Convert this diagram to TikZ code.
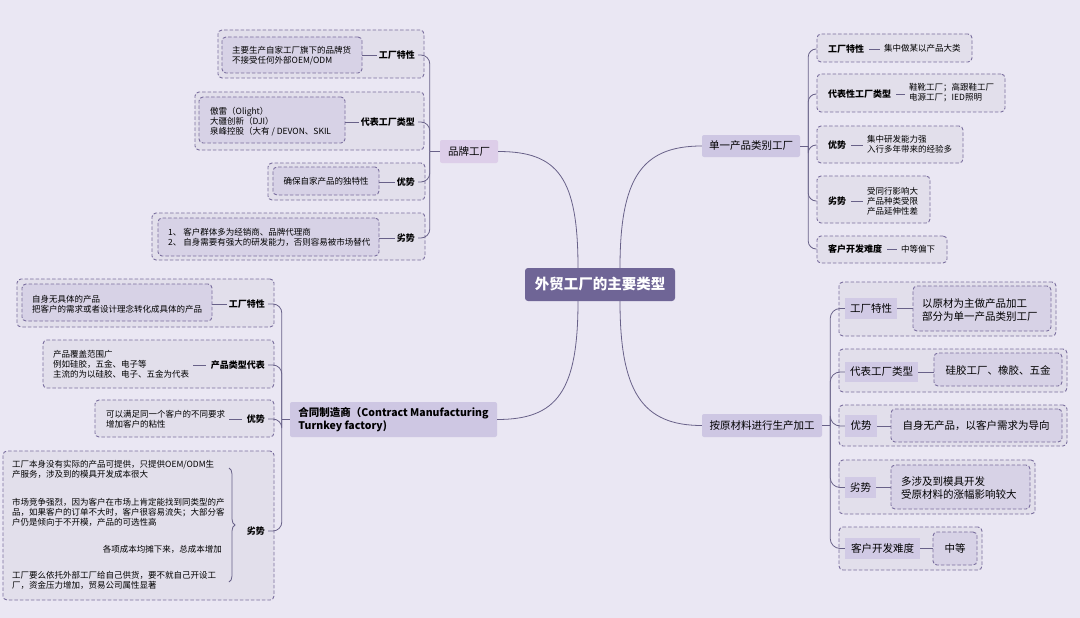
\documentclass[tikz,border=0pt]{standalone}
\usepackage{fontspec}
\setmainfont{Noto Sans CJK SC}
\usetikzlibrary{fit,calc,decorations.pathreplacing}
\definecolor{pagebg}{RGB}{234,231,243}
\definecolor{hubfill}{RGB}{111,101,150}
\definecolor{branchfill}{RGB}{206,199,227}
\definecolor{brandfill}{RGB}{221,206,233}
\definecolor{grpfill}{RGB}{226,223,235}
\definecolor{boxfill}{RGB}{215,210,230}
\definecolor{tagfill}{RGB}{209,202,229}
\definecolor{dashline}{RGB}{122,110,158}
\definecolor{linkline}{RGB}{104,97,136}

\begin{document}
\begin{tikzpicture}[x=1pt,y=-1pt,
  hub/.style={fill=hubfill,text=white,rounded corners=3pt,minimum width=150pt,minimum height=33pt,font=\fontsize{14.5}{16}\selectfont\bfseries},
  branch/.style={fill=branchfill,rounded corners=2pt,inner sep=0pt,font=\fontsize{10.5}{13}\selectfont},
  grp/.style={draw=dashline,fill=grpfill,dash pattern=on 3.5pt off 2pt,line width=0.9pt,rounded corners=4pt,inner sep=0pt},
  inbox/.style={grp,fill=boxfill},
  tag/.style={inner sep=2pt,font=\fontsize{9}{11}\selectfont\bfseries},
  note/.style={inner sep=1pt,align=left,font=\fontsize{8.5}{10}\selectfont},
  bignote/.style={inner sep=1pt,align=left,font=\fontsize{10.5}{13.5}\selectfont},
  tagbox/.style={fill=tagfill,inner sep=0pt,font=\fontsize{10.5}{13}\selectfont},
  link/.style={draw=linkline,line width=0.8pt}]
  \fill[pagebg] (0,0) rectangle (1080,618);
  \useasboundingbox (0,0) rectangle (1080,618);

  \foreach \n/\xa/\ya/\xb/\yb in {gb1/218/30/424/78,gb2/195/92/424/150,gb3/268/163/425/200,gb4/152/213/425/260,
    gc1/17/279/274/327,gc2/43/340/274/388,gc3/95/400/274/437,gc4/3/451/274/600,
    gs1/817/34/972/62,gs2/817/74/1005/112,gs3/817/126/963/163,gs4/817/176/930/223,gs5/817/236/947/263,
    gr1/839/282/1056/336,gr2/839/349/1067/392,gr3/839/405/1067/446,gr4/839/460/1035/514,gr5/839/527/982/570}
    \node[grp,fit={(\xa,\ya) (\xb,\yb)}] (\n) {};
  \foreach \n/\xa/\ya/\xb/\yb in {ib1/222/37/362/73,ib2/199/97/345/143,ib3/273/167/379/195,ib4/158/218/379/256,
    ic1/22/284/212/321,ir1/913/286/1051/331,ir2/934/353/1062/386,ir3/891/409/1062/442,ir4/891/465/1030/509,ir5/933/532/977/565}
    \node[inbox,fit={(\xa,\ya) (\xb,\yb)}] (\n) {};

  \node[hub] (hub) at (600,284.5) {外贸工厂的主要类型};
  \node[branch,fill=brandfill,minimum width=58pt,minimum height=23pt] (brand) at (469,151.5) {品牌工厂};
  \node[branch,minimum width=207pt,minimum height=35pt,align=left,font=\fontsize{10.5}{13}\selectfont\bfseries] (cm) at (393.5,419.5) {合同制造商（Contract Manufacturing\\Turnkey factory)};
  \node[branch,minimum width=98pt,minimum height=22pt] (single) at (751,146) {单一产品类别工厂};
  \node[branch,minimum width=120pt,minimum height=23pt] (raw) at (762,425.5) {按原材料进行生产加工};

  \draw[link] ([xshift=-22pt]hub.north) .. controls +(0,-90) and +(60,0) .. (brand.east);
  \draw[link] ([xshift=-22pt]hub.south) .. controls +(0,90) and +(60,0) .. (cm.east);
  \draw[link] ([xshift=20pt]hub.north) .. controls +(0,-90) and +(-60,0) .. (single.west);
  \draw[link] ([xshift=20pt]hub.south) .. controls +(0,90) and +(-60,0) .. (raw.west);

  \node[note,anchor=west] (nb1) at (231,55.5) {主要生产自家工厂旗下的品牌货\\不接受任何外部OEM/ODM};
  \node[note,anchor=west] (nb2) at (209,121.5) {傲雷（Olight）\\大疆创新（DJI）\\泉峰控股（大有 / DEVON、SKIL};
  \node[note] (nb3) at (326,181) {确保自家产品的独特性};
  \node[note,anchor=west] (nb4) at (167,237) {1、 客户群体多为经销商、品牌代理商\\2、 自身需要有强大的研发能力，否则容易被市场替代};
  \node[tag,anchor=east] (tb1) at (417,55) {工厂特性};
  \node[tag,anchor=east] (tb2) at (417,122) {代表工厂类型};
  \node[tag,anchor=east] (tb3) at (417,182) {优势};
  \node[tag,anchor=east] (tb4) at (417,238) {劣势};
  \foreach \i in {1,...,4}
    \draw[link] (tb\i.west -| ib\i.east) -- (tb\i.west);
  \draw[link] (brand.west) -- ++(-10,0) coordinate (bj);
  \foreach \i in {1,...,4}
    \draw[link,rounded corners=9pt] (bj) |- ([xshift=1pt]tb\i.east);

  \node[note,anchor=west] (nc1) at (31,304) {自身无具体的产品\\把客户的需求或者设计理念转化成具体的产品};
  \node[note,anchor=west] (nc2) at (52,364.5) {产品覆盖范围广\\例如硅胶，五金、电子等\\主流的为以硅胶、电子、五金为代表};
  \node[note,anchor=west] (nc3) at (105,419.5) {可以满足同一个客户的不同要求\\增加客户的粘性};
  \node[note,anchor=west] (nc4a) at (11,469) {工厂本身没有实际的产品可提供，只提供OEM/ODM生\\产服务，涉及到的模具开发成本很大};
  \node[note,anchor=west] (nc4b) at (11,512) {市场竞争强烈，因为客户在市场上肯定能找到同类型的产\\品，如果客户的订单不大时，客户很容易流失；大部分客\\户仍是倾向于不开模，产品的可选性高};
  \node[note,anchor=east] (nc4c) at (223,549) {各项成本均摊下来，总成本增加};
  \node[note,anchor=west] (nc4d) at (11,580.5) {工厂要么依托外部工厂给自己供货，要不就自己开设工\\厂，资金压力增加，贸易公司属性显著};
  \node[tag,anchor=east] (tc1) at (267,304) {工厂特性};
  \node[tag,anchor=east] (tc2) at (267,365) {产品类型代表};
  \node[tag,anchor=east] (tc3) at (267,419) {优势};
  \node[tag,anchor=east] (tc4) at (267,531) {劣势};
  \draw[link] (tc1.west -| ic1.east) -- (tc1.west);
  \draw[link,shorten <=3pt,shorten >=3pt] (tc2.west -| nc2.east) -- (tc2.west);
  \draw[link,shorten <=3pt,shorten >=3pt] (tc3.west -| nc3.east) -- (tc3.west);
  \coordinate (bt) at (229,468);
  \coordinate (bb) at (229,582);
  \draw[link,decorate,decoration={brace,amplitude=6pt}] (bt) -- (bb);
  \draw[link] (cm.west) -- ++(-8,0) coordinate (cj);
  \foreach \i in {1,...,4}
    \draw[link,rounded corners=9pt] (cj) |- ([xshift=1pt]tc\i.east);

  \node[tag,anchor=west] (ts1) at (826,49) {工厂特性};
  \node[tag,anchor=west] (ts2) at (826,94) {代表性工厂类型};
  \node[tag,anchor=west] (ts3) at (826,145) {优势};
  \node[tag,anchor=west] (ts4) at (826,201) {劣势};
  \node[tag,anchor=west] (ts5) at (826,249) {客户开发难度};
  \node[note,anchor=west] (ns1) at (883,48) {集中做某以产品大类};
  \node[note,anchor=west] (ns2) at (908,93) {鞋靴工厂；高跟鞋工厂\\电源工厂；IED照明};
  \node[note,anchor=west] (ns3) at (866,144) {集中研发能力强\\入行多年带来的经验多};
  \node[note,anchor=west] (ns4) at (866,201) {受同行影响大\\产品种类受限\\产品延伸性差};
  \node[note,anchor=west] (ns5) at (900,249) {中等偏下};
  \foreach \i in {1,...,5}
    \draw[link,shorten <=3pt,shorten >=3pt] (ts\i.east) -- (ts\i.east -| ns\i.west);
  \draw[link] (single.east) -- ++(8,0) coordinate (sj);
  \foreach \i in {1,...,5}
    \draw[link,rounded corners=8pt] (sj) |- (ts\i.west -| gs\i.west);

  \node[tagbox,minimum width=52pt,minimum height=21pt] (tr1) at (871,308.5) {工厂特性};
  \node[tagbox,minimum width=73pt,minimum height=20pt] (tr2) at (881.5,372) {代表工厂类型};
  \node[tagbox,minimum width=32pt,minimum height=22pt] (tr3) at (861,426) {优势};
  \node[tagbox,minimum width=31pt,minimum height=21pt] (tr4) at (860.5,487.5) {劣势};
  \node[tagbox,minimum width=75pt,minimum height=21pt] (tr5) at (882.5,548.5) {客户开发难度};
  \node[bignote,anchor=west] (nr1) at (921,310) {以原材为主做产品加工\\部分为单一产品类别工厂};
  \node[bignote] (nr2) at (998,370) {硅胶工厂、橡胶、五金};
  \node[bignote] (nr3) at (976,426) {自身无产品，以客户需求为导向};
  \node[bignote,anchor=west] (nr4) at (900,488) {多涉及到模具开发\\受原材料的涨幅影响较大};
  \node[bignote] (nr5) at (955,548.5) {中等};
  \foreach \i in {1,...,5}
    \draw[link] (tr\i.east) -- (tr\i.east -| ir\i.west);
  \draw[link] (raw.east) -- ++(8,0) coordinate (rj);
  \foreach \i in {1,...,5}
    \draw[link,rounded corners=10pt] (rj) |- (tr\i.west);
\end{tikzpicture}
\end{document}
